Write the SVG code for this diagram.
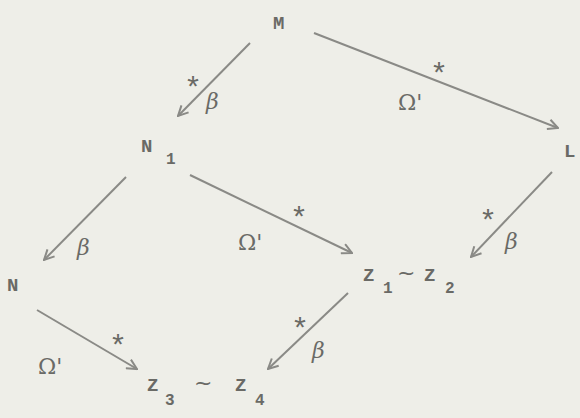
<svg xmlns="http://www.w3.org/2000/svg" width="580" height="418" viewBox="0 0 580 418">
<defs>
<marker id="ah" viewBox="0 0 12 12" refX="11" refY="6" markerWidth="12" markerHeight="12" markerUnits="userSpaceOnUse" orient="auto">
<path d="M1,1 L11,6 L1,11" fill="none" stroke="#8a8a86" stroke-width="2"/>
</marker>
</defs>
<style>
.bg{fill:#eeeee8}
.t{font-family:"Liberation Mono",monospace;font-size:19px;font-weight:bold;fill:#6a6a66}
.s{font-family:"Liberation Mono",monospace;font-size:16px;font-weight:bold;fill:#6a6a66}
.tl{font-family:"DejaVu Sans",sans-serif;font-size:22px;fill:#6a6a66}
.lab{font-family:"DejaVu Serif",serif;font-size:22px;fill:#6a6a66;font-style:italic}
.om{font-family:"DejaVu Serif",serif;font-size:22px;fill:#6a6a66}
.st{font-family:"Liberation Mono",monospace;font-size:30px;fill:#6a6a66}
.e{stroke:#8a8a86;stroke-width:2;fill:none;marker-end:url(#ah)}
</style>
<rect class="bg" x="0" y="0" width="580" height="418"/>
<g id="node-M"><text class="t" x="273" y="29">M</text></g>
<g id="node-L"><text class="t" x="564" y="157">L</text></g>
<g id="node-N1"><text class="t" x="141" y="152">N</text><text class="s" x="166" y="164">1</text></g>
<g id="node-N"><text class="t" x="7" y="291">N</text></g>
<g id="node-Z12"><text class="t" x="363" y="281">Z</text><text class="s" x="383" y="293">1</text><text class="tl" x="397" y="280">~</text><text class="t" x="424" y="281">Z</text><text class="s" x="445" y="293">2</text></g>
<g id="node-Z34"><text class="t" x="147" y="391">Z</text><text class="s" x="165" y="405">3</text><text class="tl" x="194" y="390">~</text><text class="t" x="235" y="391">Z</text><text class="s" x="255" y="405">4</text></g>
<g id="connectors">
<line class="e" x1="250" y1="43" x2="178" y2="116"/>
<line class="e" x1="314" y1="33" x2="558" y2="128"/>
<line class="e" x1="126" y1="177" x2="44" y2="260"/>
<line class="e" x1="190" y1="175" x2="352" y2="253"/>
<line class="e" x1="552" y1="172" x2="471" y2="257"/>
<line class="e" x1="37" y1="310" x2="137" y2="369"/>
<line class="e" x1="348" y1="293" x2="268" y2="369"/>
</g>
<g id="labels">
<text class="st" x="184" y="98">*</text><text class="lab" x="206" y="109">β</text>
<text class="st" x="430" y="84">*</text><text class="om" x="398" y="110">Ω'</text>
<text class="lab" x="77" y="255">β</text>
<text class="st" x="290" y="228">*</text><text class="om" x="238" y="250">Ω'</text>
<text class="st" x="479" y="231">*</text><text class="lab" x="505" y="249">β</text>
<text class="st" x="109" y="356">*</text><text class="om" x="38" y="374">Ω'</text>
<text class="st" x="291" y="339">*</text><text class="lab" x="312" y="358">β</text>
</g>
</svg>
